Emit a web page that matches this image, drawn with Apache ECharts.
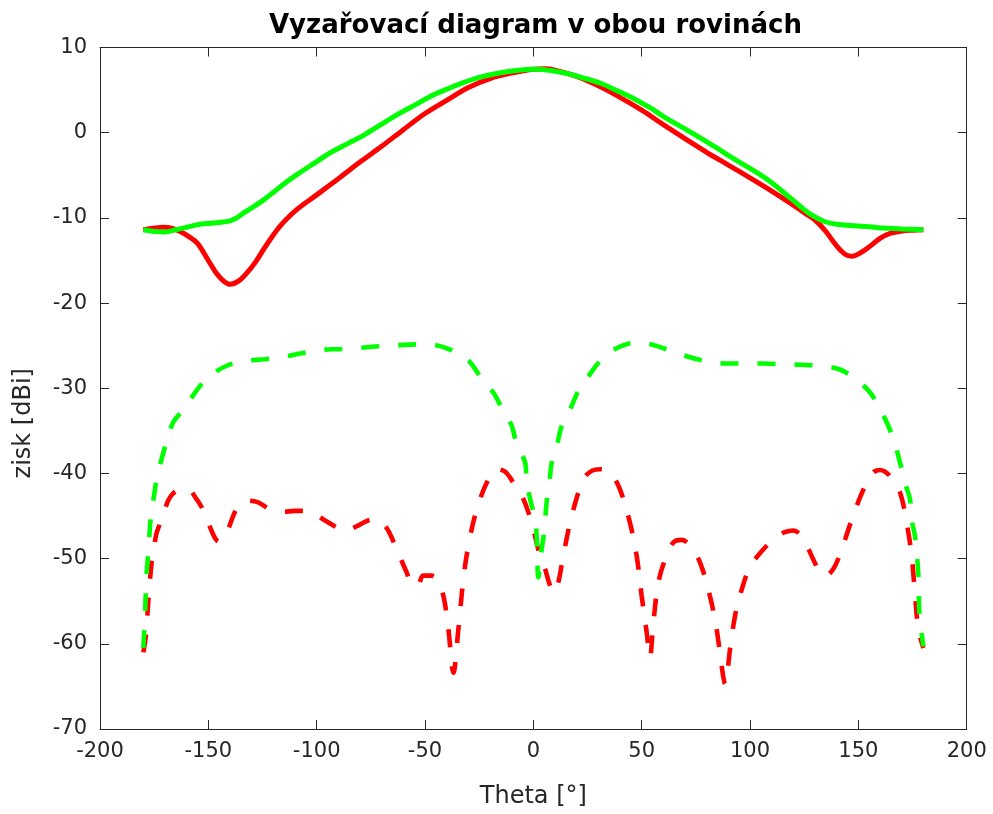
<!DOCTYPE html>
<html>
<head>
<meta charset="utf-8">
<script src="https://cdn.jsdelivr.net/npm/echarts@6/dist/echarts.min.js"></script>
<style>
html,body{margin:0;padding:0;background:#fff;}
#chart{width:993px;height:814px;}
</style>
</head>
<body>
<div id="chart"></div>
<script>
// ---- Data ----
const xTicks = [-200, -150, -100, -50, 0, 50, 100, 150, 200];
const yTicks = [-70, -60, -50, -40, -30, -20, -10, 0, 10];

// co-polar, red (solid)
const redCoTheta = [-180,-175,-171,-167,-163,-159,-155,-150,-146,-143,-140,-136,-132,-128,-124,-120,-116,-110,-100,-90,-80,-70,-60,-50,-40,-30,-20,-10,0,5,10,20,30,40,50,60,70,80,90,100,110,120,125,130,135,140,144,147,151,155,160,165,170,175,180];
const redCoGain  = [-11.4,-11.2,-11.1,-11.2,-11.6,-12.2,-13.0,-15.0,-16.6,-17.4,-17.8,-17.4,-16.4,-15.1,-13.5,-12.0,-10.7,-9.2,-7.3,-5.4,-3.45,-1.6,0.35,2.25,3.8,5.3,6.35,7.0,7.45,7.5,7.35,6.6,5.5,4.15,2.65,0.95,-0.7,-2.3,-3.8,-5.3,-6.85,-8.5,-9.4,-10.25,-11.6,-13.3,-14.3,-14.5,-14.1,-13.4,-12.4,-11.8,-11.55,-11.45,-11.4];

// co-polar, green (solid)
const greenCoTheta = [-180,-175,-170,-165,-160,-155,-150,-145,-140,-137,-133,-128,-124,-120,-115,-109,-100,-94,-85,-78,-70,-63,-55,-48,-40,-32,-25,-17,-8,0,2,8,15,22,31,38,46,54,61,70,77,85,92,100,108,115,123,128,134,140,146,155,162,170,180];
const greenCoGain  = [-11.4,-11.6,-11.65,-11.4,-11.1,-10.8,-10.65,-10.55,-10.35,-10.0,-9.3,-8.5,-7.8,-7.0,-6.0,-4.9,-3.4,-2.4,-1.2,-0.25,1.0,2.1,3.2,4.2,5.1,5.9,6.5,6.95,7.3,7.45,7.45,7.3,6.97,6.5,5.8,5.0,4.05,2.9,1.75,0.45,-0.6,-1.85,-3.0,-4.2,-5.5,-6.9,-8.6,-9.6,-10.4,-10.75,-10.9,-11.05,-11.2,-11.3,-11.4];

// cross-polar, red (dashed)
const redXTheta = [-180,-178.8,-177.7,-176.2,-175.4,-174.1,-172.5,-170.8,-167.7,-163,-159.2,-156,-153,-150,-146.9,-145,-143,-140.8,-137,-132.3,-127,-121.5,-115.4,-110,-104.6,-100,-96.9,-91,-87.7,-84,-81.5,-76,-72.3,-67.7,-63.1,-58.5,-55.4,-53,-50.8,-47,-44.6,-41.5,-39.2,-36.9,-34.6,-32.3,-30,-26.1,-20.8,-16.9,-13,-9.2,-4.6,-0.8,3.1,5.4,7.5,9.5,11.5,13.8,17.7,23.1,26.9,31,35.4,40,44.6,47.7,50,52.3,53.8,55.4,57.7,60.8,64.6,68.5,72.3,76.9,81.5,84.6,86.9,88.5,90.8,93.1,96.2,100,106.2,112.3,116,120,124.6,129.2,132,134.6,138.5,142.3,147,152.3,156.9,160,164.6,169.2,172.3,174.6,176.2,177.7,180];
const redXGain  = [-61,-59,-55,-50.5,-49.5,-47.2,-46,-44.8,-42.8,-41.9,-41.9,-42.8,-44,-45.8,-47.6,-48,-47.6,-46.5,-44.2,-43.2,-43.4,-44.2,-44.5,-44.4,-44.4,-44.9,-45.4,-46.3,-46.7,-46.5,-46.2,-45.5,-45.4,-46.4,-48.9,-51.6,-53.2,-53.0,-52.0,-52.0,-52.4,-54.4,-58.3,-63.4,-58.3,-52.4,-48.5,-44.2,-40.7,-39.5,-39.8,-41.1,-43.0,-45.8,-49.7,-51.2,-53,-54.0,-52.8,-49.7,-45,-40.7,-39.7,-39.5,-39.9,-41.9,-45.8,-49.7,-54.4,-58.65,-61.6,-57.5,-52.8,-50.1,-48.1,-47.8,-48.5,-50.45,-54.4,-58.3,-62.6,-64.7,-60.6,-56.7,-53.6,-51.0,-48.9,-47.5,-46.9,-46.7,-47.7,-50.1,-51.5,-52.0,-51.2,-48.9,-45.4,-41.9,-39.9,-39.6,-40.3,-42.2,-45.8,-49.7,-54.4,-58.3,-60.5];

// cross-polar, green (dashed)
const greenXTheta = [-180,-179.3,-178.5,-177.5,-176.5,-175,-173.9,-170.8,-166.2,-160.7,-155,-149,-141,-133,-124,-115,-107,-98,-89,-80,-71,-63,-54,-45,-40,-37,-33,-29,-24.6,-18.5,-14.6,-10,-7.7,-3.8,-3.1,-1.5,0.8,1.5,2.3,3.5,5,6.2,7.4,8.5,10.8,13.1,16.9,20.8,25.4,30.8,37.7,46.9,54.6,63.9,71.5,80.8,88.9,97.7,106.2,115.7,124.3,133,141.5,149.2,155.4,160,163.8,166.9,169.2,171.5,173.8,174.6,176.2,177.7,178.2,180];
const greenXGain  = [-60.5,-57,-52,-48.5,-45,-42.5,-40.8,-37.6,-34.0,-32.3,-30.1,-28.5,-27.3,-26.8,-26.6,-26.3,-25.9,-25.5,-25.4,-25.25,-25.06,-24.95,-24.85,-24.95,-25.3,-25.65,-26.3,-27.0,-28.6,-30.5,-32.3,-34.4,-36.6,-38.7,-40.9,-43.0,-45.4,-47.3,-52.2,-49.5,-46.8,-43.2,-41.1,-38.7,-36.8,-34.4,-32.5,-30.3,-28.6,-26.8,-25.4,-24.67,-24.86,-25.65,-26.3,-26.9,-27.1,-27.1,-27.1,-27.2,-27.25,-27.4,-27.8,-29.0,-30.5,-32.5,-34.4,-36.6,-38.7,-41.1,-43.0,-45.4,-47.5,-52,-56.5,-60.3];

const AX = '#262626';
const FONT = 'DejaVu Sans';

function pairs(xs, ys) { return xs.map((x, i) => [x, ys[i]]); }

const chart = echarts.init(document.getElementById('chart'), null, {renderer: 'canvas'});

const axisCommon = {
  axisLine: {show: true, onZero: false, lineStyle: {color: AX, width: 1}},
  axisTick: {show: true, inside: true, length: 9, lineStyle: {color: AX, width: 1}},
  splitLine: {show: false}
};

chart.setOption({
  animation: false,
  backgroundColor: '#ffffff',
  title: {
    text: 'Vyzařovací diagram v obou rovinách',
    left: 269,
    top: 8,
    padding: [5, 0, 5, 0],
    textStyle: {fontFamily: FONT, fontWeight: 'bold', fontSize: 26, color: '#000'}
  },
  grid: {left: 100, right: 26.3, top: 47.5, bottom: 83.7, containLabel: false},
  xAxis: [
    Object.assign({
      type: 'value', position: 'bottom', min: xTicks[0], max: xTicks[xTicks.length - 1], interval: 50,
      axisLabel: {show: true, fontFamily: FONT, fontSize: 21, color: AX, margin: 12},
      name: 'Theta [°]', nameLocation: 'middle', nameGap: 56,
      nameTextStyle: {fontFamily: FONT, fontSize: 24, color: AX}
    }, axisCommon),
    Object.assign({
      type: 'value', position: 'top', min: xTicks[0], max: xTicks[xTicks.length - 1], interval: 50,
      axisLabel: {show: false}
    }, axisCommon)
  ],
  yAxis: [
    Object.assign({
      type: 'value', position: 'left', min: yTicks[0], max: yTicks[yTicks.length - 1], interval: 10,
      axisLabel: {show: true, fontFamily: FONT, fontSize: 21, color: AX, margin: 13},
      name: 'zisk [dBi]', nameLocation: 'middle', nameGap: 64,
      nameTextStyle: {fontFamily: FONT, fontSize: 24, color: AX, padding: [0, 70, 0, 0]}
    }, axisCommon),
    Object.assign({
      type: 'value', position: 'right', min: yTicks[0], max: yTicks[yTicks.length - 1], interval: 10,
      axisLabel: {show: false}
    }, axisCommon)
  ],
  series: [
    {type: 'line', name: 'E co', data: pairs(redCoTheta, redCoGain), showSymbol: false, smooth: 0.35,
     lineStyle: {color: '#ff0000', width: 5}, z: 2},
    {type: 'line', name: 'H co', data: pairs(greenCoTheta, greenCoGain), showSymbol: false, smooth: 0.35,
     lineStyle: {color: '#00ff00', width: 5}, z: 3},
    {type: 'line', name: 'E cross', data: pairs(redXTheta, redXGain), showSymbol: false, smooth: 0.35,
     lineStyle: {color: '#ff0000', width: 4.6, type: [18, 19], cap: 'butt'}, z: 4},
    {type: 'line', name: 'H cross', data: pairs(greenXTheta, greenXGain), showSymbol: false, smooth: 0.35,
     lineStyle: {color: '#00ff00', width: 4.6, type: [18, 19], cap: 'butt'}, z: 5}
  ]
});
</script>
</body>
</html>
